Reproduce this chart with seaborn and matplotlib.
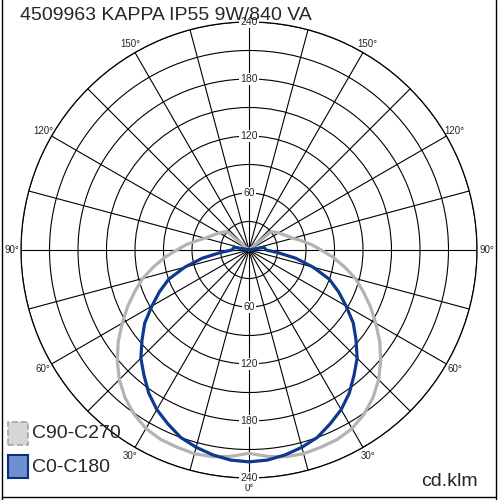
import numpy as np
import pandas as pd
import matplotlib
matplotlib.use("Agg")
import matplotlib.pyplot as plt
from matplotlib.patches import Rectangle
from matplotlib.lines import Line2D
import seaborn as sns

# Datos de la curva fotométrica (cd/klm), ángulo gamma desde el nadir
angulos = [0, 5, 10, 15, 20, 25, 30, 35, 40, 45, 50, 55, 60, 65, 70, 75, 80, 85,
           90, 95, 100, 105, 110, 115, 120, 125, 130, 135, 140, 150, 160, 170, 180]
c0_c180 = [223, 222, 219, 215, 210, 202, 194, 184, 172, 161, 147, 134, 118, 104, 90, 70, 50, 30,
           18, 17, 16, 2, 0, 0, 0, 0, 0, 0, 0, 0, 0, 0, 0]
c90_c270 = [214, 218, 221, 222, 221, 220, 217, 211, 203, 193, 181, 168, 154, 141, 128, 116, 102, 89,
            76, 66, 56, 48, 43, 39, 36, 33, 30, 0, 0, 0, 0, 0, 0]

titulo = "4509963 KAPPA IP55 9W/840 VA"
series = ["C90-C270", "C0-C180"]
colores = {"C90-C270": "#b3b3b3", "C0-C180": "#0d3a8e"}
etiquetas_r = [60, 120, 180, 240]
etiquetas_ang = [30, 60, 90, 120, 150]


def espejo(angs, vals):
    a = np.array(angs, dtype=float)
    v = np.array(vals, dtype=float)
    th = np.concatenate([-a[::-1], a[1:]])
    rr = np.concatenate([v[::-1], v[1:]])
    return np.deg2rad(th), rr


filas = []
for nombre, vals in [("C90-C270", c90_c270), ("C0-C180", c0_c180)]:
    th, rr = espejo(angulos, vals)
    for t, r in zip(th, rr):
        filas.append({"theta": t, "r": r, "serie": nombre})
df = pd.DataFrame(filas)

sns.set_style("white")
plt.rcParams["font.family"] = ["Liberation Sans", "DejaVu Sans"]

fig = plt.figure(figsize=(5, 5), dpi=100)
ax = fig.add_axes([0.042, 0.044, 0.912, 0.912], projection="polar")
ax.set_theta_zero_location("S")
ax.set_ylim(0, 240)

# rejilla
ax.set_rticks(np.arange(30, 241, 30))
ax.set_yticklabels([])
ax.set_thetagrids(np.arange(0, 360, 15), labels=[])
ax.grid(True, color="black", linewidth=0.8)
ax.spines["polar"].set_color("black")
ax.spines["polar"].set_linewidth(0.9)

sns.lineplot(data=df, x="theta", y="r", hue="serie", palette=colores, sort=False,
             estimator=None, linewidth=2.3, legend=False, ax=ax, zorder=5)
ax.set_xlabel("")
ax.set_ylabel("")

# etiquetas radiales
for v in etiquetas_r:
    for t in [0, np.pi]:
        ax.text(t, v, str(v), ha="center", va="center", fontsize=7.5, zorder=6,
                bbox=dict(facecolor="white", edgecolor="none", pad=0.6))

# etiquetas de ángulos
for a in etiquetas_ang:
    for s in [-1, 1]:
        ax.text(np.deg2rad(s * a), 250, f"{a}°", ha="center", va="center",
                fontsize=7, clip_on=False)
ax.text(0, 251, "0°", ha="center", va="center", fontsize=7, clip_on=False)

# título y leyenda
fig.text(20 / 500, 1 - 15 / 500, titulo, fontsize=14, ha="left", va="center", zorder=10)
fig.add_artist(Rectangle((8 / 500, 1 - 445 / 500), 20 / 500, 23 / 500,
                         facecolor="#d6d6d6", edgecolor="#a5a5a5", linestyle="--",
                         linewidth=1.2, transform=fig.transFigure))
fig.add_artist(Rectangle((8 / 500, 1 - 478 / 500), 20 / 500, 23 / 500,
                         facecolor="#6f8fd3", edgecolor="#0d2f78",
                         linewidth=1.5, transform=fig.transFigure))
fig.text(32 / 500, 1 - 434 / 500, series[0], fontsize=14, ha="left", va="center")
fig.text(32 / 500, 1 - 467 / 500, series[1], fontsize=14, ha="left", va="center")
fig.text(478 / 500, 1 - 481 / 500, "cd.klm", fontsize=14, ha="right", va="center")

# marco
for xs, ys in [([2 / 500, 2 / 500], [0, 1]), ([496 / 500, 496 / 500], [0, 1]),
               ([2 / 500, 496 / 500], [3 / 500, 3 / 500])]:
    fig.add_artist(Line2D(xs, ys, color="black", linewidth=1.0, transform=fig.transFigure))

fig.savefig("out.png", dpi=100)
